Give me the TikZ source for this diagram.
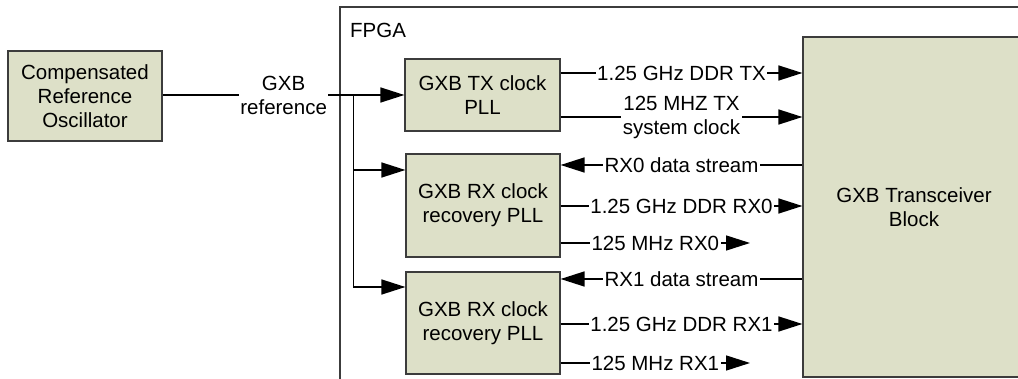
\documentclass[tikz,border=0pt]{standalone}
\usepackage{fontspec}
\setmainfont{Liberation Sans}
\usetikzlibrary{arrows.meta}
\definecolor{boxfill}{RGB}{221,224,200}
\definecolor{boxedge}{RGB}{60,60,60}
\begin{document}
\begin{tikzpicture}[x=1pt,y=-1pt,
  every node/.style={font=\fontsize{20.5}{24}\selectfont, align=center},
  blk/.style={draw=boxedge, fill=boxfill, line width=1.2pt, inner sep=0pt},
  wire/.style={line width=1.5pt},
  sig/.style={wire, -{Triangle[length=24pt,width=15pt]}},
  lbl/.style={fill=white, inner xsep=1.5pt, inner ysep=0pt}]
  \useasboundingbox (0,0) rectangle (1018,379);

  % FPGA outline (runs past the right and bottom edges)
  \draw[draw=boxedge, line width=1.2pt] (340,390) -- (340,7) -- (1030,7);
  \node[anchor=base west, inner sep=0pt] (fpga) at (350,37.5) {FPGA};

  % blocks
  \node[blk, minimum width=154pt, minimum height=90pt] (osc) at (85,96)
    {Compensated\\Reference\\Oscillator};
  \node[blk, minimum width=155pt, minimum height=72pt] (tx) at (482.5,95)
    {GXB TX clock\\PLL};
  \node[blk, minimum width=154pt, minimum height=103pt] (rx0) at (483,205.5)
    {GXB RX clock\\recovery PLL};
  \node[blk, minimum width=154pt, minimum height=102pt] (rx1) at (483,323)
    {GXB RX clock\\recovery PLL};
  \node[blk, minimum width=222pt, minimum height=340pt] (xcvr) at (914,207)
    {GXB Transceiver\\Block};

  % reference clock distribution
  \coordinate (j1) at (353.5,95);
  \coordinate (j2) at (353.5,170);
  \coordinate (j3) at (353.5,287);
  \draw[wire] (osc.east |- j1) -- node[lbl, pos=0.634] {GXB\\reference} (j1);
  \draw[sig] (j1) -- (tx.west |- j1);
  \draw[sig] (j2) -- (rx0.west |- j2);
  \draw[sig] (j1) -- (j3) -- (rx1.west |- j3);

  % TX PLL outputs
  \draw[sig] (tx.east |- 0,73) -- node[lbl] {1.25 GHz DDR TX} (xcvr.west |- 0,73);
  \draw[sig] (tx.east |- 0,117) -- node[lbl] {125 MHZ TX\\system clock} (xcvr.west |- 0,117);

  % RX0 channel
  \draw[sig] (xcvr.west |- 0,165) -- node[lbl] {RX0 data stream} (rx0.east |- 0,165);
  \draw[sig] (rx0.east |- 0,206) -- node[lbl] {1.25 GHz DDR RX0} (xcvr.west |- 0,206);
  \coordinate (rx0end) at (750,243);
  \draw[sig] (rx0.east |- rx0end) -- node[lbl] {125 MHz RX0} (rx0end);

  % RX1 channel
  \draw[sig] (xcvr.west |- 0,279) -- node[lbl] {RX1 data stream} (rx1.east |- 0,279);
  \draw[sig] (rx1.east |- 0,324) -- node[lbl] {1.25 GHz DDR RX1} (xcvr.west |- 0,324);
  \coordinate (rx1end) at (750,363);
  \draw[sig] (rx1.east |- rx1end) -- node[lbl] {125 MHz RX1} (rx1end);
\end{tikzpicture}
\end{document}
